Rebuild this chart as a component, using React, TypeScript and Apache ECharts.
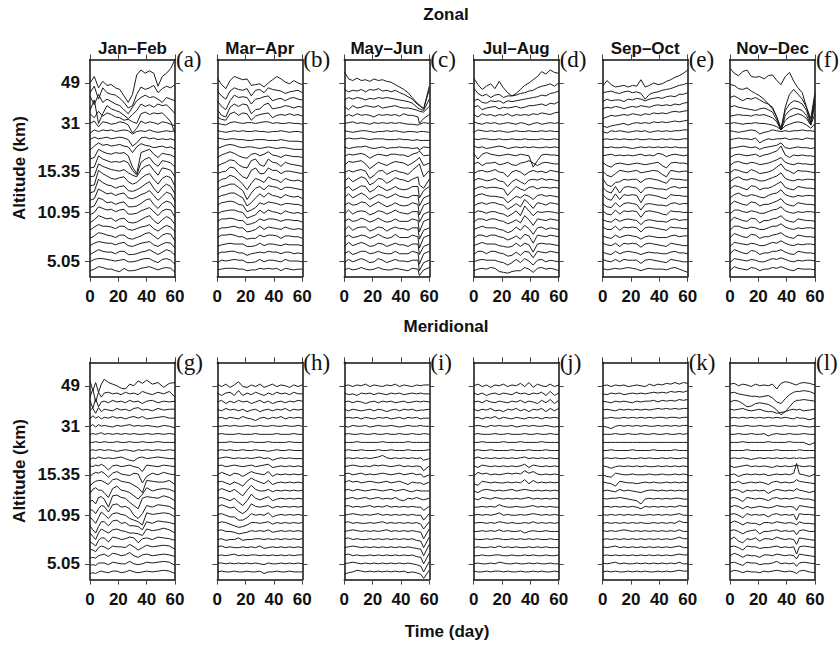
import { useEffect, useRef } from 'react';
import * as echarts from 'echarts';

// Sample days along each 60-day window
const DAYS = [0, 3, 6, 9, 12, 15, 18, 21, 24, 27, 30, 33, 36, 39, 42, 45, 48, 51, 54, 57, 60];
const DAYS_ZONAL_MAY_JUN = [0, 3, 6, 9, 12, 15, 18, 21, 24, 27, 30, 33, 36, 39, 42, 45, 48, 52, 53, 56, 60];
const DAYS_MERID_JAN_FEB = [0, 2, 4, 6, 8, 10, 13, 16, 19, 22, 25, 28, 31, 34, 37, 40, 44, 48, 52, 56, 60];
const DAYS_MERID_MAY_JUN = [0, 3, 6, 9, 12, 15, 18, 21, 24, 27, 30, 33, 36, 39, 42, 45, 48, 51, 54, 56, 60];
const DAYS_MERID_NOV_DEC = [0, 3, 6, 9, 12, 15, 18, 21, 24, 27, 30, 33, 36, 39, 42, 45, 47, 49, 52, 56, 60];

// Altitude levels: 24 stacked traces, level 23 (top) down to level 0 (bottom)
const LEVEL_COUNT = 24;
const ALT_LEVELS = [23, 18, 12, 7, 1];
const ALT_LABELS = ['49', '31', '15.35', '10.95', '5.05'];

const MONTHS = ['Jan\u2013Feb', 'Mar\u2013Apr', 'May\u2013Jun', 'Jul\u2013Aug', 'Sep\u2013Oct', 'Nov\u2013Dec'];
const LETTERS = ['(a)', '(b)', '(c)', '(d)', '(e)', '(f)', '(g)', '(h)', '(i)', '(j)', '(k)', '(l)'];

// Normalised wind anomaly per level, in tenths of the trace spacing (top level first)
const ZONAL_JAN_FEB = [
  [0, 8, -6, 2, -3, -2, -6, -8, -16, -24, -14, 10, 16, 12, 15, 12, -4, 8, 12, 18, 29],
  [-2, 6, -10, 4, -2, -4, -5, -9, -14, -21, -18, -4, 5, 2, 4, 7, -2, 3, 6, 4, 8],
  [4, -7, 6, -4, 0, -3, -6, -8, -13, -18, -10, -2, 2, 5, 2, 3, 0, -4, 2, 0, -2],
  [-4, 9, -20, -8, 2, -2, -4, -6, -10, -14, -9, -4, 4, 1, 3, 0, 4, 2, 3, -2, -8],
  [2, -3, 5, -1, 3, 1, -2, -3, -6, -5, -8, -10, 2, 4, 1, 3, 2, 3, -2, -8, -22],
  [0, 3, -4, 2, 1, -1, 0, 2, 1, -2, -12, -6, 3, 0, 2, 1, -1, 2, 1, -1, -3],
  [-2, 2, 0, 2, 1, 2, 0, 1, 2, 1, -3, 0, 1, 0, 2, 0, -1, 0, 1, 0, 1],
  [0, 3, 1, 2, 3, 1, 2, 3, 2, 0, -8, -4, 2, 3, 1, 2, 0, 1, 0, 1, -1],
  [-3, 2, 6, 3, 4, 2, 3, 4, 2, 1, -6, 1, 5, 3, 2, 0, 1, 2, 0, 1, -2],
  [-4, -2, 8, 5, 3, 2, 4, 3, 4, 0, -14, -22, 4, 6, 8, 2, -2, 3, 2, 1, -2],
  [-5, -4, 10, 6, 4, 2, 3, 2, 4, 1, -8, -14, 2, 6, 8, 1, -3, 4, 3, 1, -4],
  [-6, -5, 10, 7, 5, 3, 2, 1, 3, -1, -4, -6, 3, 7, 9, 2, -4, 5, 4, 2, -6],
  [-7, -6, 12, 8, 5, 2, 1, 3, 4, -2, -5, -3, 2, 6, 8, 1, -5, 2, 5, 3, -8],
  [-6, -4, 11, 7, 4, 3, 0, 2, 3, -3, -4, -2, 1, 5, 8, 0, -6, 1, 5, 2, -7],
  [-5, -3, 9, 6, 3, 4, 1, 3, 4, -2, -3, -1, 2, 4, 7, 1, -5, 0, 5, 3, -6],
  [-4, -2, 8, 6, 2, 3, 0, 2, 3, -3, -3, -2, 1, 5, 7, 0, -5, 1, 4, 2, -5],
  [-3, 0, 7, 5, 3, 4, 1, 3, 4, -2, -2, -1, 2, 4, 6, 1, -4, 2, 4, 3, -6],
  [-3, 1, 6, 4, 2, 3, -1, 2, 3, -2, -3, -2, 1, 4, 6, 0, -4, 1, 5, 2, -5],
  [-2, 2, 5, 3, 3, 2, 0, 3, 3, -1, -2, 0, 2, 3, 5, 0, -3, 1, 4, 2, -4],
  [-2, 1, 5, 4, 2, 1, -1, 2, 2, -2, -3, -1, 1, 4, 5, 1, -3, 2, 4, 3, -5],
  [-1, 2, 4, 3, 2, 2, 0, 2, 3, -1, -2, 0, 2, 3, 4, 0, -2, 1, 3, 2, -4],
  [-2, 1, 4, 2, 1, 1, -1, 2, 2, -2, -2, -1, 1, 2, 4, 1, -2, 1, 4, 2, -3],
  [-1, 2, 3, 3, 2, 1, 0, 1, 2, -1, -1, 0, 2, 3, 3, 0, -2, 2, 3, 1, -4],
  [-2, 0, 3, 2, 0, 0, -2, -3, 1, -2, -2, -1, 1, 2, 3, 1, -1, 1, 2, 1, -4],
];

const ZONAL_MAR_APR = [
  [6, -2, -7, 3, 8, 6, 4, 5, -3, -2, -1, -5, 0, 4, 8, 5, 1, -1, 3, 0, -2],
  [0, -6, -10, 0, 4, 2, 1, 3, -6, 1, 2, -2, 4, 2, 1, 0, -3, -1, 0, 1, -2],
  [-2, -9, -13, -2, 5, 2, 3, 2, -6, 0, 1, 3, 4, -2, 0, 1, -2, 1, 2, 0, -1],
  [-3, -10, -12, 0, 4, 1, 4, 3, -8, -3, -2, 3, 5, -2, -1, 0, 2, 1, -1, 1, 0],
  [-2, -5, -6, 2, 4, 0, 3, 2, -6, -1, 1, 2, 3, -3, 0, 1, 0, 2, 0, 1, -1],
  [0, -1, -2, 1, 2, 1, 0, 1, 1, 0, 1, 2, 2, 0, 1, 0, 0, 1, 0, 0, -1],
  [1, 0, -1, 0, 1, 0, 1, 0, 0, 1, 0, 0, -1, 0, 0, 1, 0, -1, 0, 0, -1],
  [2, 1, 0, 1, 1, 0, 0, -1, -1, 0, 0, 0, -1, -1, -1, 0, -1, -2, -2, -2, -3],
  [-1, 1, 3, 4, 3, 1, 0, 1, 1, 0, -1, 0, 1, 0, -1, 0, 0, -1, -2, -2, -2],
  [-2, 1, 3, 5, 3, 0, -2, -3, 2, 3, 0, 2, 5, 1, 0, -2, 1, 0, -1, -1, -2],
  [-3, 0, 2, 5, 4, -1, -4, -5, 4, 6, -1, -3, 6, 2, 1, -3, 2, 0, -1, -2, -3],
  [-2, 0, 1, 6, 5, -1, -6, -8, 2, 5, -2, -2, 5, 2, 2, -2, 1, 1, 0, -1, -2],
  [-3, 1, 2, 6, 4, 0, -5, -12, -4, 2, 0, -3, 4, 1, 0, -3, 2, 0, -1, 0, -2],
  [-2, 2, 3, 5, 5, 1, -3, -14, -6, 0, 2, -2, 3, 2, 1, -2, 1, 1, 0, -1, -2],
  [-2, 1, 2, 4, 4, 1, -2, -12, -8, -2, 3, -1, 4, 1, 0, -2, 2, 0, -1, 0, -3],
  [-1, 2, 3, 4, 3, 0, -1, -9, -7, -4, 2, 0, 3, 2, 1, -1, 1, 1, 0, 0, -2],
  [-2, 1, 2, 3, 3, 1, 0, -7, -5, -3, 3, -1, 3, 1, 0, -2, 2, 0, -1, 0, -2],
  [-1, 2, 2, 3, 2, 0, 0, -5, -4, -2, 2, 0, 2, 2, 1, -1, 1, 1, 0, 0, -2],
  [-2, 1, 1, 2, 3, 1, 1, -4, -3, -1, 3, -1, 2, 1, 0, -1, 2, 0, -1, 0, -1],
  [-1, 2, 2, 3, 2, 0, 0, -3, -2, -2, 2, 0, 2, 2, 1, -2, 1, 1, 0, 0, -2],
  [-2, 0, 1, 2, 1, 1, 1, -2, -2, -1, 2, -1, 1, 1, 0, -1, 1, 0, 0, 0, -1],
  [-1, 1, 1, 2, 2, 0, 0, -3, -1, 0, 1, 0, 2, 1, 1, -1, 1, 1, -1, 0, -1],
  [-2, 1, 0, 1, 2, 1, 1, -2, -2, -1, 2, -1, 1, 1, 0, -1, 2, 0, 0, 0, -1],
  [-1, 0, 1, 1, 1, 0, 0, -2, -1, -1, 1, 0, 1, 0, 1, -2, 1, 0, -1, 0, 0],
];

const ZONAL_MAY_JUN = [
  [14, 5, 3, 6, 3, 4, 2, 5, 3, 4, 2, 1, -2, -5, -8, -12, -18, -26, -27, -32, -4],
  [2, -1, 1, 0, 2, -1, 2, 1, 3, 0, 1, -1, 1, -2, -4, -7, -10, -17, -18, -22, 2],
  [-1, 2, 0, 2, 1, -1, 1, 0, 2, 1, 2, 1, 0, -1, -2, -3, -5, -11, -12, -14, 0],
  [1, -3, 2, -1, 0, 2, 1, 0, 2, -1, 0, 1, 2, 0, -1, -1, -2, -4, -5, -6, 1],
  [-2, 1, -1, 2, 0, 1, 0, -2, 1, 0, 1, 0, 1, -1, 2, 0, 0, -2, -10, -4, 1],
  [0, 1, 2, 0, 1, 0, -1, 1, 0, 1, 0, 1, 0, 1, 0, -1, -1, -2, -1, 1, 0],
  [1, 0, -1, 0, 1, 1, 0, -1, 0, 0, 1, 0, 1, 0, -1, 0, 0, -1, 0, 0, -1],
  [0, 2, 1, 1, 2, 1, 0, 1, 1, 1, 0, 0, 0, 1, 0, 0, -1, 0, -1, -1, -1],
  [1, -1, 0, 1, 1, 2, 0, -1, 0, 1, -1, 0, 0, 1, 0, 0, -1, 0, -3, 1, 0],
  [-1, 2, 1, 2, 3, 1, -3, 0, 2, 1, 0, 2, 2, 1, 1, -1, 2, 4, 6, 0, 1],
  [-2, 3, 2, 3, 4, 0, -6, -2, 2, 0, -2, 1, 3, 2, 1, -2, 1, 6, 8, -2, 1],
  [-1, 2, 0, 2, 3, 1, -8, -4, 1, 2, -3, 0, 2, 0, -1, -3, 2, 8, 10, -6, 2],
  [-2, 3, -2, 1, 4, 2, -6, -3, 2, 1, -4, -1, 3, 1, 0, -2, 1, 4, -6, -10, 1],
  [-1, 2, -3, 0, 3, 2, -5, -2, 3, 0, -3, -1, 2, -1, -2, -1, 2, 2, -12, -3, 2],
  [-2, 3, -2, 1, 4, 1, -4, -1, 2, 1, -2, 0, 3, 0, -1, -2, 1, 1, -12, -2, 1],
  [-1, 2, -1, 0, 3, 2, -3, 0, 3, 0, -3, -1, 2, -1, -2, -1, 2, 0, -13, -1, 2],
  [-2, 3, -2, 1, 2, 1, -3, -1, 2, 1, -2, 0, 3, 0, -1, -2, 1, 1, -12, -2, 1],
  [-1, 2, -1, 0, 3, 1, -2, 0, 3, 0, -2, -1, 2, -1, -1, -1, 2, 0, -14, -1, 2],
  [-2, 3, -2, 1, 2, 2, -3, -1, 2, 1, -3, 0, 2, 0, 0, -2, 1, 1, -13, -2, 1],
  [-1, 2, -1, 0, 2, 1, -2, 0, 3, 0, -2, -1, 3, -1, -1, -1, 2, 0, -14, -1, 2],
  [-2, 3, -1, 1, 3, 1, -2, -1, 2, 1, -2, 0, 2, 0, 0, -2, 1, 1, -12, -2, 1],
  [-1, 2, -2, 0, 2, 2, -1, 0, 2, 0, -1, -1, 2, -1, -1, -1, 2, 0, -14, -1, 2],
  [-2, 2, -1, 1, 3, 1, -2, -1, 3, 1, -2, 0, 2, 0, 0, -1, 1, 1, -12, -2, 1],
  [-1, 1, -1, 0, 2, 0, -1, 0, 2, 0, -1, -1, 1, 0, -1, -2, 1, 0, -8, -1, 2],
];

const ZONAL_JUL_AUG = [
  [6, -2, -8, -4, -1, -7, 2, -6, -12, -16, -13, -8, -3, 0, 4, 8, 14, 11, 16, 13, 12],
  [4, -3, -6, -4, -8, -5, -4, -8, -6, -6, -5, -3, -2, 0, 1, 4, 6, 7, 9, 6, 10],
  [-2, 0, -4, -5, -2, -3, -2, -5, -2, -3, -2, -1, 0, 1, 2, 3, 5, 4, 7, 8, 10],
  [0, 2, -3, -1, 0, 1, -2, 0, -1, 0, 1, -1, 0, 2, 2, 3, 4, 2, 5, 4, 7],
  [1, -2, 2, 0, 1, -1, 1, 0, 2, -1, 1, 0, 1, 0, 2, 1, 3, 2, 1, 3, 4],
  [2, 0, -1, 1, 0, 1, -1, 0, 1, 0, -1, 1, 0, -2, 0, 1, -1, 0, 1, 0, 1],
  [-1, 2, 1, 0, 1, 0, 1, 0, -1, 0, 1, 0, 0, 1, 0, 0, 1, 0, 1, 0, 0],
  [1, 0, 1, 1, 0, 0, 1, 0, 0, 1, 0, 0, 1, 0, 0, 0, 1, 0, 0, 1, 0],
  [2, 0, 1, -1, 0, 1, 2, 1, -1, 0, 1, 0, 1, 0, 1, 0, 0, 1, 0, 1, 0],
  [3, -4, 2, 4, 2, 1, 0, 1, 2, 1, 0, 2, 1, 0, -14, -6, 1, 2, 1, 1, 0],
  [0, 2, -2, 1, 1, 2, -1, 0, 2, -1, -2, 1, 2, 4, 1, -2, 1, 2, 1, 0, 0],
  [-2, 1, 2, 0, 1, 3, 0, -1, -6, 0, 2, 0, -4, 0, 2, 0, 1, -1, 2, 1, 0],
  [-1, 2, 1, -1, 0, 2, -1, -2, -8, -2, 1, -2, -5, 0, 1, 0, 2, 0, 1, 0, -1],
  [-2, 1, 2, 0, 1, 1, 0, -1, -9, -3, 2, -1, -3, 1, 2, -1, 1, 1, 0, 1, 0],
  [-1, 2, 3, 1, 0, 0, -1, -2, -8, -4, 0, -2, 2, 0, -4, 1, 2, 0, 1, 0, -1],
  [-2, 1, 2, 0, 2, 2, 0, -1, -6, -3, 1, -3, 6, 1, -5, 2, 1, -1, 2, 1, 0],
  [-1, 2, 1, -1, 1, 1, -1, -2, -5, -2, 2, -4, 8, 2, -4, 1, 0, 1, 1, 0, -1],
  [-2, 2, 2, 0, 2, 2, 0, -1, -4, -2, 1, -3, 6, 1, -6, 2, 1, 0, 2, 1, 0],
  [-1, 1, 3, 1, 1, 1, -1, -2, -5, -3, 2, -2, 4, 0, -7, 1, 2, -1, 1, 0, -1],
  [-2, 2, 2, 0, 2, 2, 0, -1, -4, -2, 1, -3, 3, 1, -8, 2, 1, 0, 2, 1, 0],
  [-1, 1, 3, 1, 1, 1, -1, -2, -3, -2, 2, -2, 2, 0, -9, 1, 2, 1, 1, 0, -1],
  [-2, 2, 2, -1, 2, 2, 0, -1, -4, -3, 1, -3, 2, 1, -6, 2, 1, 0, 2, 1, 0],
  [-1, 1, 2, 1, 1, 1, -1, -2, -5, -2, 2, -2, 3, 0, -5, 1, 2, -1, 1, 0, -1],
  [-2, 0, 1, 0, 2, 1, -3, -4, -5, -3, -2, -2, 2, 0, -4, 1, 2, 0, 1, 0, -2],
];

const ZONAL_SEP_OCT = [
  [-4, 3, -2, -5, -4, -3, -5, -3, -4, 4, -5, -3, 0, -2, -1, 2, 4, 7, 9, 12, 16],
  [-2, -1, 0, -2, -3, -1, 0, -2, -1, -3, -10, -4, -2, -1, 1, 2, 3, 5, 7, 8, 10],
  [-3, 0, -2, -1, -1, -3, 0, -1, 1, 0, -2, 0, 1, 2, 1, 3, 4, 3, 6, 6, 8],
  [-2, 0, -1, 1, 0, -2, 0, 1, 0, 2, 1, 0, 2, 3, 2, 3, 2, 4, 3, 5, 6],
  [-4, -2, 0, -1, 0, 1, 0, 2, 1, 0, 2, 1, 3, 2, 3, 2, 4, 5, 4, 5, 6],
  [-3, -5, -3, -2, -1, 0, -2, 0, 1, 0, 1, 0, 2, 1, 2, 1, 2, 3, 2, 3, 4],
  [0, -2, 1, 0, 1, 0, -1, 0, 1, 0, 1, -1, 0, 1, 0, 1, 0, 1, 1, 2, 2],
  [0, 1, 0, 1, 0, 1, 0, 0, 1, 0, 0, 1, 0, 0, 1, 0, 1, 0, 0, 1, 1],
  [1, 0, 1, 0, 0, 1, 0, -1, 0, 1, 0, 1, 0, 1, 0, 1, 0, 1, 0, 0, 0],
  [0, 1, 2, 0, 1, 0, 1, 0, 1, 2, 0, 1, 0, 3, 2, -1, 1, 2, 1, 0, 1],
  [2, -2, -4, 0, 1, 0, -1, 0, 1, 0, -1, 0, 1, 2, -2, -5, 1, 2, 1, 1, 0],
  [1, -4, -6, -2, 2, 1, 0, 1, 2, -1, 0, 1, 2, 1, -3, -6, 2, 1, 0, 1, 1],
  [2, -6, -8, -3, -2, 1, 0, 1, 1, -3, 1, 2, 1, 0, -2, -4, 2, 1, 1, 0, 0],
  [1, -4, -6, 2, -6, 1, 2, 1, 0, -6, 0, 1, 0, -1, -1, -2, 1, 2, 0, 1, 1],
  [2, -3, -5, 3, -4, 2, 1, 2, 1, -8, 1, 2, 1, 0, -2, -3, 2, 1, 1, 0, 0],
  [1, -3, -4, 2, -3, 1, 2, 1, 0, -7, 0, 1, 0, -1, -1, -2, 1, 2, 0, 1, 1],
  [2, -2, -3, 3, -2, 2, 1, 2, 1, -6, 1, 2, 1, 0, -2, -3, 2, 1, 1, 0, 0],
  [1, -1, -2, 2, -1, 1, 2, 1, 0, -5, 0, 1, 0, -1, -1, -2, 1, 2, 0, 1, 1],
  [2, -1, -1, 3, -2, 2, 1, 2, 1, -4, 1, 2, 1, 0, -1, -2, 2, 1, 1, 0, 0],
  [1, -1, -2, 2, -1, 1, 2, 1, 0, -3, 0, 1, 0, -1, -1, -1, 1, 2, 0, 1, 1],
  [2, 0, -1, 2, -2, 2, 1, 2, 1, -3, 1, 2, 1, 0, -1, -2, 2, 1, 0, -1, -1],
  [1, -1, -2, 2, -1, 1, 2, 1, 0, -2, 0, 1, 0, 0, -1, -1, 1, 2, 0, 0, -1],
  [2, 0, -1, 2, -1, 2, 1, 1, 1, -3, 1, 2, 1, 0, -1, -2, 2, 1, 0, -1, -1],
  [1, -1, 0, 1, 0, 1, 2, 1, 0, -2, 0, 1, 0, 0, 0, -1, 1, 2, 0, -2, -4],
];

const ZONAL_NOV_DEC = [
  [18, 12, 9, 14, 16, 8, 7, 8, 5, 9, 10, 3, -2, 8, 13, 2, -6, -12, -30, -44, -12],
  [8, 7, 3, 2, 4, 0, -3, -6, -10, -16, -22, -32, -48, -20, -4, 2, -4, -10, -20, -38, -6],
  [2, 4, 1, -2, 1, 0, 2, -1, -4, -6, -10, -22, -36, -14, -6, -2, -3, -6, -14, -30, -2],
  [0, 2, 0, -1, -2, -3, -4, -2, -1, -3, -6, -16, -28, -10, -4, -1, -2, -4, -10, -22, 4],
  [-1, 0, 1, 0, 0, -1, 1, 0, 1, -1, -3, -8, -18, -6, -2, 0, 2, 0, -4, -12, 2],
  [0, 1, 0, -1, 0, 0, 1, 0, 0, -1, -2, -4, -8, -3, -1, 1, 2, 1, -2, -6, 0],
  [1, 0, -1, 0, 1, 2, 1, -3, -1, 0, 2, 1, 0, 1, 0, 1, 1, 2, 1, 1, 0],
  [0, 1, 2, 1, 1, 0, 2, -4, -1, 1, 0, 1, 1, 2, 0, 1, 1, 0, 2, 1, 1],
  [-1, 0, 1, 2, 1, 0, 1, -2, 0, 1, 2, 3, 6, 0, -1, 0, 1, 0, 0, -1, 0],
  [-2, 1, 2, 1, 0, 1, 2, -1, 1, 2, 4, 6, 12, 1, -2, 1, 0, 1, 0, 0, -1],
  [-2, 2, 3, 1, 0, 2, 1, -1, 0, 1, 3, 5, 8, 2, 0, -1, 1, 0, 0, -1, 0],
  [-1, 3, 2, 0, -1, 3, 1, -2, -1, 0, 2, 6, 10, 3, 1, -2, 2, 1, 1, 0, -1],
  [-2, 2, 4, 1, 0, 2, 1, -1, -1, 1, 3, 5, 9, 2, 0, -1, 1, 0, 1, 1, 0],
  [-1, 3, 2, 0, -2, 3, 2, -2, 0, 0, 2, 5, 8, 1, -1, -2, 2, 1, 0, 0, -1],
  [-2, 2, 4, 1, 0, 2, 1, -1, -2, 1, 3, 4, 8, 2, 0, -1, 1, 0, 1, 1, 0],
  [-1, 4, 2, 0, -1, 3, 2, -2, 0, 0, 2, 4, 7, 1, -1, -2, 2, 1, 0, 0, -1],
  [-2, 3, 3, 1, 0, 2, 1, -1, -1, 1, 3, 4, 7, 2, 0, -1, 1, 0, 1, 1, 0],
  [-1, 4, 2, 0, -1, 3, 2, -3, 0, 0, 2, 3, 6, 1, -1, -2, 2, 1, 0, 0, -1],
  [-2, 3, 3, 1, 0, 2, 1, -1, -1, 1, 3, 3, 6, 2, 0, -1, 1, 0, 1, 1, 0],
  [-1, 4, 2, 0, -1, 3, 2, -2, 0, 0, 2, 3, 5, 1, -1, -2, 2, 1, 0, 0, -1],
  [-2, 3, 2, 1, 0, 2, 1, -1, -1, 1, 3, 2, 5, 2, 0, -1, 1, 0, 1, 1, 0],
  [-1, 4, 2, 0, -1, 3, 2, -2, 0, 0, 2, 2, 4, 1, -1, -2, 2, 1, 0, 0, -1],
  [-2, 3, 2, 1, 0, 2, 1, -1, -1, 1, 3, 2, 4, 2, 0, -1, 1, 0, 1, 1, 0],
  [-2, 3, 1, 0, -1, 2, 1, -2, 0, 0, 2, 1, 3, 1, -1, -2, 1, 0, 0, 0, -1],
];

const MERID_JAN_FEB = [
  [6, -6, 4, -8, 2, 8, 4, 2, 0, -3, -4, 2, 0, 6, 3, 7, 2, 4, -2, 3, 4],
  [-4, 6, -10, 2, -4, 1, 2, 0, 1, -1, 2, 0, 1, -1, 3, 1, -1, 2, 0, 3, -4],
  [2, -8, 4, -6, 0, 1, -1, 2, 0, 1, -1, 2, 0, 1, -2, 1, 2, -1, 1, 0, 1],
  [0, 2, -4, 3, -2, 1, 0, -1, 2, 0, 1, -1, 2, 3, 0, 1, -1, 2, 0, 1, 1],
  [-1, 3, 0, 2, -1, 1, 0, 2, 0, 1, -1, 1, 2, 0, 2, -1, 0, 1, 2, 0, 0],
  [0, 2, -1, 2, 0, 1, 0, -1, 1, 0, 1, 2, 0, 1, 0, 1, 0, -1, 1, 0, -2],
  [0, 1, 0, 1, 2, 0, 1, 0, 1, 0, 1, 0, 1, 0, 0, 1, 0, 1, 0, 1, 0],
  [0, 0, 1, 0, 0, 1, 0, 0, 1, 0, 0, 1, 0, 0, 1, 0, 0, 1, 0, 0, 0],
  [0, 1, 0, 1, 1, 0, 1, 0, -1, 0, 1, 0, -1, 1, 0, 1, 0, 1, 0, 1, 0],
  [-1, 1, 0, 2, 1, 0, 1, 0, 1, 2, 0, -2, -3, 1, 2, 0, 1, 2, 1, 0, 0],
  [1, 0, 2, 1, 3, 1, -4, 1, 2, 0, 1, 2, 0, -1, -6, 2, 1, 0, 2, 1, 0],
  [-2, 1, 3, 2, 4, 2, -3, 2, 4, 1, 0, -1, 2, 1, -10, -2, 2, 0, 3, 1, 0],
  [-4, 0, 2, 3, 3, 1, -2, 4, 5, 2, 1, 0, -3, -6, -12, 3, 2, 1, 1, 3, -2],
  [-3, 2, 4, 1, 1, -2, -8, 3, 6, 1, 0, -2, -6, -10, -4, 4, 0, 2, 3, 2, -1],
  [-2, -2, -6, 2, 3, 0, -10, 4, 5, 2, 1, -4, -8, -12, 1, 3, 2, 1, 4, 2, -2],
  [-3, -4, -8, -2, 2, 1, -6, 3, 4, 0, 1, -2, -10, -14, -8, 2, 0, 3, 2, 1, -3],
  [-2, -6, -10, -3, 4, 1, -4, 2, 3, 1, 0, -4, -6, -8, -12, 3, 1, 2, 3, 2, -2],
  [-3, -8, -12, -4, 2, 2, -3, 3, 4, 0, 1, -3, -3, -4, -8, 2, 0, 3, 2, 1, -1],
  [-2, -6, -10, -2, 3, 1, -2, 2, 3, 1, 0, -2, -2, -3, -5, 3, 1, 2, 4, 2, -2],
  [-3, -5, -8, -1, 2, 2, -3, 3, 2, 0, 1, 3, 2, -4, 1, 2, 0, 3, 2, 1, -1],
  [-2, -3, -5, 0, 2, 1, -2, 2, 1, 1, 0, 4, 1, -3, 0, 3, 1, 2, 3, 2, -2],
  [-3, -2, -3, 0, 1, 2, -1, 3, 2, 0, 1, 4, 0, -2, 1, 2, 0, 1, 2, 1, -1],
  [-2, -1, -2, 1, 1, 1, -1, 2, 1, 0, 0, 3, 0, -1, 0, 2, 1, 2, 3, 2, -2],
  [-2, -1, -2, 0, 1, 0, -1, 1, 1, -1, 0, 2, 0, -1, 0, 1, 0, 1, 2, 1, -2],
];

const MERID_MAR_APR = [
  [2, -1, 2, -2, 1, 5, -1, -2, 1, -1, 2, -2, 0, 2, -1, 1, 0, -2, 1, -1, 1],
  [1, -2, 1, 2, -2, 4, -2, 1, -1, 2, 0, -2, 1, -1, 2, 0, 1, -1, 2, 0, 0],
  [0, 2, -2, 1, -1, 2, 0, 1, -2, 0, 2, -1, 1, -2, 0, 1, -1, 1, 0, 2, 1],
  [1, -1, 2, 0, 1, -1, 1, -2, 0, 1, -2, 0, 1, -1, 1, 0, 2, -1, 1, 0, 1],
  [0, 1, -1, 1, 0, -1, 2, 0, -1, -3, 0, 1, -1, 1, 0, 2, -1, 1, 0, 1, 0],
  [0, 0, 1, 0, 1, 0, 0, 1, 0, 0, 1, 0, 0, 1, 0, 0, 1, 0, 0, 1, 0],
  [0, 1, 0, 0, 0, 1, 0, 0, 0, 1, 0, 0, 0, 0, 1, 0, 0, 0, 1, 0, 0],
  [0, 0, 0, 1, 0, 0, 0, 0, 1, 0, 0, 0, 1, 0, 0, 0, 0, 1, 0, 0, 0],
  [0, 1, 0, 1, 0, 0, 1, 0, 0, 1, 0, 0, -1, 0, 1, 0, 0, 1, 0, 0, 0],
  [0, 1, 2, 1, 0, 1, 0, 1, 0, 1, 2, 0, 1, -2, 0, 1, 0, 1, 0, 0, 0],
  [1, 2, 0, 1, 2, 1, 0, 1, 2, 0, 1, 2, 3, -1, 0, 1, 0, 1, 0, 1, 0],
  [0, 3, 1, -1, 2, 1, -2, 1, 4, 2, 1, 0, 4, -2, 1, 0, 1, 0, 1, 0, 1],
  [1, 2, 0, -2, 1, -1, -4, 2, 6, 3, 1, -1, 3, -2, 0, 1, 0, 1, 0, 1, 0],
  [0, 3, 1, -1, 2, -2, -6, 1, 7, 2, 0, 0, 2, -1, 1, 0, 1, 0, 1, 0, 1],
  [1, 2, 0, -2, 1, -4, -8, -2, 6, 1, -1, 1, 3, -2, 0, 1, 0, 1, 0, 1, 0],
  [0, 3, 1, -1, 0, -5, -8, -4, 4, 1, 0, 1, 2, -1, 1, 0, 1, 0, 1, 0, 1],
  [1, 2, 0, -2, -2, -6, -6, -3, 2, 0, 1, 0, 3, -2, 0, 1, 0, 1, 0, 1, 0],
  [0, 2, 1, -1, -3, -5, -4, -2, 1, 1, 0, 1, 2, -1, 1, 0, 1, 0, 1, 0, 1],
  [1, 2, 0, 0, -1, -3, -2, -1, 1, 0, 1, 0, 2, -1, 0, 1, 0, 1, 0, 1, 0],
  [0, 1, -1, 0, 0, 2, -1, 0, 0, 1, 1, 0, 1, 0, 1, 0, 1, 0, 1, 0, 1],
  [1, 2, 0, 1, 0, 0, 1, 0, 1, 0, 2, -1, 0, 1, 0, 1, 0, 1, 0, 1, 0],
  [0, 1, 0, 1, 2, 0, 1, 0, 1, 1, 0, 1, 0, 1, 0, 1, 0, 1, 0, 1, 1],
  [1, 1, 0, 1, 0, 1, 0, 1, 0, 1, 0, -1, 1, 0, 0, 1, 0, 1, 0, 1, 0],
  [0, 1, 0, 0, 1, 0, 0, 1, 0, 0, 1, -2, 0, 0, 1, 0, 0, 1, 0, 0, 0],
];

const MERID_MAY_JUN = [
  [0, 1, -1, 1, 0, 2, -1, 1, 0, -1, 1, 0, 2, -1, 1, 0, -1, 1, 0, 1, 1],
  [1, -1, 0, -2, 1, 0, 1, -1, 1, 0, -1, 1, 0, 1, -1, 0, 1, 0, 1, 0, 0],
  [0, 1, -1, 1, 0, -2, 0, 1, -1, 1, 0, 1, -1, 0, 1, -1, 0, 1, 0, 1, 0],
  [1, -1, 1, 0, -1, 0, 1, -1, 1, 0, -2, 0, 1, -1, 1, 0, 1, -1, 0, 0, 1],
  [0, 1, 0, 1, -1, 1, 0, -1, 1, 0, 1, -1, 0, 1, -1, 1, 0, 1, -1, 0, 0],
  [0, -1, 1, 0, 0, 1, -1, 0, 1, 0, 0, 1, 0, -1, 0, 1, 0, 0, 1, 0, 0],
  [0, 1, 0, 0, 1, 0, 0, 1, 0, 0, 1, 0, 0, 1, 0, 0, 1, 0, 0, 1, 0],
  [0, 0, 0, 1, 0, 0, 0, 0, 0, 1, 0, 0, 0, 0, 0, 1, 0, 0, 0, 0, 0],
  [0, 1, 0, 0, 1, 0, 0, 0, 1, 0, 0, 1, 0, 0, 0, 1, 0, 0, 0, 0, 1],
  [0, 1, 0, 1, 0, 1, 0, 1, 2, 4, 1, 0, 1, 0, 1, 0, 1, 0, 1, -2, 0],
  [0, 1, 2, 1, 0, 1, 0, 2, 1, 2, 1, 0, 1, 2, 0, 1, 0, 1, 0, -5, 1],
  [1, 2, 0, 1, 2, 0, 1, 0, 1, 2, 1, 0, 1, 2, 0, 1, 2, 0, 1, -3, 0],
  [0, 3, 1, 2, 0, 1, 2, 1, 0, 1, 2, 0, 1, 2, 0, -2, 1, 0, 0, -2, 1],
  [1, 2, 0, 2, 1, 0, 1, 2, 1, 0, 1, 2, 0, 1, 2, 0, -1, 1, 0, 0, 0],
  [0, 1, 2, 0, 1, 2, 0, 1, 2, 0, 1, 0, 2, -1, -2, 1, 0, 2, 0, -1, 1],
  [1, 2, 0, 1, 0, 1, 2, 0, 1, 0, 2, 0, 1, 0, 1, 0, 1, 0, 0, -4, 1],
  [0, 1, 2, 1, 0, 1, 0, 1, 2, 0, 1, 0, 1, 0, 1, 0, 1, 0, 0, -6, 2],
  [1, 2, 0, 1, 0, 0, 1, 0, 1, 2, 0, 1, 0, 1, 0, 1, 0, 1, -1, -7, 2],
  [0, 1, 2, 1, 0, 1, 0, 1, 0, 1, 2, 0, 1, 0, 1, 0, 1, 0, -1, -9, 3],
  [1, 2, 0, 1, 0, 0, 1, 0, 1, 0, 1, 0, 1, 0, 1, 0, 1, -1, -2, -10, 3],
  [0, 1, 2, 1, 0, 1, 0, 1, 0, 1, 0, 1, 0, 1, 0, 1, 0, -1, -2, -10, 4],
  [1, 2, 0, 1, 0, 0, 1, 0, 1, 0, 1, 0, 1, 0, 1, 0, 1, -1, -2, -10, 3],
  [0, 1, 2, 1, 0, 1, 0, 1, 0, 1, 0, 1, 0, 1, 0, 1, 0, -1, -3, -10, 3],
  [-3, -1, 0, 2, 1, 0, 1, 0, 1, 0, 1, 0, 1, 0, 1, -1, 0, -1, -3, -8, 2],
];

const MERID_JUL_AUG = [
  [0, 2, -1, 1, -2, 1, 0, 2, -1, 1, 0, 3, -1, 4, -2, 2, 0, -1, 2, -1, 1],
  [1, -1, 1, -2, 0, 1, -1, 1, 0, -1, 2, 0, 1, -1, 1, 0, 2, -2, 3, -2, 1],
  [0, 1, -1, 2, 0, -1, 1, 0, -1, 1, 0, 2, -1, 1, 0, -2, 2, -1, 3, -2, 2],
  [1, -1, 1, 0, 2, -1, 0, -2, 1, 0, 2, -1, 1, -2, 1, 0, 2, -2, 2, -1, 2],
  [0, 1, -1, 1, 0, 2, -1, 1, 0, -1, 1, 0, -1, 1, 0, 1, -1, 1, 0, 1, 0],
  [0, 1, 0, -1, 1, 0, 1, 0, 0, 1, -1, 0, 1, 0, 1, 0, 0, 1, 0, -1, 0],
  [0, 1, 0, 0, 0, 1, 0, 0, 1, 0, 0, 0, 1, 0, 0, 1, 0, 0, 1, 0, 0],
  [0, 0, 1, 0, 0, 0, 0, 1, 0, 0, 0, 1, 0, 0, 0, 0, 1, 0, 0, 0, 0],
  [0, 1, 0, 0, 1, 0, 0, 0, 0, 1, 0, 0, 0, 1, 0, 0, 0, 1, 0, 0, 0],
  [0, 2, 0, 1, 0, 1, 0, 1, 0, 1, 0, 1, 2, 0, 1, 0, 1, 0, 1, 0, 0],
  [1, -1, 2, 1, 0, 1, 0, 1, 0, 1, 0, 1, 3, -1, 2, 1, 0, 1, 0, 1, 0],
  [-2, 3, 1, 2, 0, 1, 0, 1, 2, 1, 2, 1, 5, 2, 4, 1, 0, 1, 0, 1, 0],
  [-1, -3, 2, 1, 0, 1, 0, 0, 1, 0, 1, 0, 4, -1, 3, 0, 1, 0, 1, 0, 1],
  [0, -2, 1, 2, 1, 0, 1, 0, 1, 2, 0, 1, 2, 1, 0, 1, 0, 1, 0, 1, 0],
  [1, -1, 2, 1, 0, 2, 1, 0, 1, 0, 1, 0, 1, 2, 0, 1, 0, 1, 0, 1, 0],
  [0, 0, 1, 0, 1, 0, 3, 1, 0, 0, 1, 0, 0, 1, 2, 0, 1, 0, 1, 0, 0],
  [0, 1, 0, 1, 0, 1, 3, 0, 1, 0, 0, 1, 0, 1, 2, 1, 0, 1, 0, 1, 0],
  [0, 1, 1, 0, 1, 0, 2, 1, 0, 1, 0, 0, 1, 0, 2, 0, 1, 0, 1, 0, 1],
  [0, 0, 1, 0, 1, 0, 2, 0, 1, 0, 0, 1, -2, 0, 1, 0, 0, 1, 0, 0, 0],
  [1, 0, 0, 1, 0, 1, 1, 0, 0, 1, 0, 1, 0, 1, 0, 1, 0, 0, 1, 0, 0],
  [0, 1, 0, 0, 1, 0, 2, 0, 1, 0, 1, 0, 0, 1, 0, 1, 0, 1, 0, 0, 0],
  [0, 0, 1, 0, 0, 1, 1, 0, 0, 1, 0, 0, 1, 0, 1, 0, 0, 1, 0, 0, 1],
  [0, 1, 0, 0, 1, 0, 2, 1, 0, 0, 1, 0, 0, 1, 0, 1, 0, 0, 1, 0, 0],
  [1, 0, 0, 1, 0, 1, 1, 0, 1, 0, 0, 1, 0, 0, 1, 0, 1, 0, 0, 1, 0],
];

const MERID_SEP_OCT = [
  [0, 1, -1, 1, 0, 1, -1, 0, 1, 0, -1, 2, 0, 2, 1, 3, 2, 4, 2, 4, 3],
  [0, -1, 1, 0, 1, -1, 0, 1, 0, 1, 0, 1, 2, 1, 2, 1, 3, 2, 3, 2, 4],
  [1, 0, -1, 1, 0, 1, 0, -1, 1, 0, 1, 1, 2, 0, 2, 1, 2, 1, 3, 2, 3],
  [0, 1, 0, -1, 1, 0, 1, 0, 1, 0, 1, 0, 1, 2, 1, 2, 1, 2, 1, 2, 2],
  [0, 0, 1, 0, 0, 1, 0, 1, 0, 1, 0, 1, 0, 1, 1, 0, 1, 1, 0, 1, 1],
  [0, -1, -3, 0, 1, 0, 1, 0, 1, 0, 1, 0, 0, 1, 0, 1, 0, 1, 0, 1, 1],
  [0, 0, 0, 1, 0, 0, 1, 0, 0, 1, 0, 0, 1, 0, 0, 1, 0, 0, 1, 0, 1],
  [0, 0, 0, 0, 0, 0, 0, 0, 0, 0, 0, 0, 0, 0, 0, 0, 0, 0, 0, 0, 0],
  [0, 0, 1, 0, 0, 0, 0, 1, 0, 0, 0, 0, 1, 0, 0, 0, 0, 1, 0, 0, 0],
  [0, 1, 0, 1, 0, 0, 1, 0, 0, 1, 0, 1, 0, 0, 1, 0, 1, 0, 0, 1, 0],
  [1, 0, -2, 0, 1, 0, 1, 0, 1, 0, 1, 0, 0, 1, 0, 1, 0, 1, 0, 1, 0],
  [0, -2, -3, 2, 1, 0, 0, 1, 0, 0, 0, 1, 0, 0, 1, 0, 0, 1, 0, 1, 0],
  [1, 0, -1, -4, 2, 1, 0, 0, -1, 0, 1, 0, 1, 0, 0, 1, 0, 1, 0, 1, 0],
  [0, 1, 0, -1, 2, 0, 1, 0, -1, -2, 0, 1, 1, 0, 1, 0, 1, 0, 1, 0, 1],
  [1, 0, 1, 1, 2, 1, 0, -1, -2, -6, 0, 1, 0, 1, 0, 1, 0, 1, 1, 0, 0],
  [0, 1, 0, 1, 0, 1, 0, 1, 0, -2, 1, 0, 1, 0, 1, 0, 1, 0, 2, 1, 1],
  [1, 0, 1, 0, 1, 0, 1, 0, 1, 0, 0, 1, 0, 1, 0, 1, 0, 1, 2, 0, 0],
  [0, 1, 0, 1, 0, 1, 0, 1, 0, 1, 0, 0, 1, 0, 1, 0, 1, 0, 3, 1, 1],
  [1, 0, 1, 0, 1, 2, 1, 0, 1, 0, 1, 0, 1, 0, 1, 0, 1, 0, 2, 0, 0],
  [0, 1, 0, 1, 0, 1, 0, 1, 0, 1, 0, 1, 0, 1, 0, 1, 0, 1, 3, 1, 1],
  [1, 0, 1, 2, 0, 1, 0, 1, 0, 1, 0, 1, 0, 1, 0, 1, 0, 1, 2, 0, 0],
  [0, 1, 0, 1, 0, 1, 0, 1, 0, 1, 0, 1, 0, 1, 0, 1, 0, 1, 2, 1, 1],
  [1, 0, 1, 2, 0, 1, 0, 0, 1, 0, 1, 0, 1, 0, 1, 0, 1, 0, 2, 0, 0],
  [0, 1, 0, 1, 0, 0, 1, 0, 1, 0, 1, 0, 0, 1, 0, 1, 0, 1, 2, 1, 1],
];

const MERID_NOV_DEC = [
  [2, 3, 0, 2, 1, -1, 2, 0, 1, 0, 2, -4, 3, 5, 4, 2, 1, 3, 4, 3, 1],
  [1, 2, 0, -1, -2, -3, -3, -4, -3, -2, -5, -10, -12, -6, -1, 2, 3, 3, 4, 3, 0],
  [0, 2, 1, -2, -6, -5, -2, -1, -2, -3, -6, -10, -16, -12, -6, 0, 2, 2, 3, 2, 1],
  [1, 0, 1, 2, 0, -1, 0, 1, -1, -2, -2, -4, -3, -2, 0, 1, 0, 1, -1, 0, 1],
  [0, 1, 0, 1, 0, 1, 0, 1, 0, 1, 0, 1, 0, 1, 0, -1, 1, 0, 0, -2, 0],
  [0, 1, 0, 0, 1, 0, 0, 1, 0, 0, 1, 0, 0, 1, 0, 0, 0, 1, 0, -1, 0],
  [0, 0, 1, 0, 0, 1, 0, 0, 1, -2, 0, 1, 0, 0, 1, 0, 0, 0, 1, 0, 0],
  [0, 0, 0, 1, 0, 0, 0, 0, 0, 1, 0, 0, 0, 0, 1, 0, 0, 0, 0, -3, 0],
  [0, 0, 0, 0, 1, 0, 0, 0, 0, 0, 0, 1, 0, 0, 0, 0, 0, 1, 0, 0, 0],
  [0, 1, 0, 1, 0, -1, 0, 1, 0, 1, 0, 1, 0, 1, 0, 1, 0, 1, 0, 1, 1],
  [1, -1, 0, 1, 2, 0, 1, 0, 1, 0, -1, 1, 0, 1, 0, 1, 2, 1, 0, 1, 0],
  [0, 1, -2, 0, 1, 0, 1, 0, 1, -1, 0, 1, 0, 1, 0, 2, 14, 1, 0, -2, 1],
  [1, 0, 2, -1, 0, 1, 0, 1, 0, -2, 1, 2, 0, 1, 0, 1, 4, 2, 1, 0, -1],
  [0, 2, 1, -2, 1, 0, 1, 0, 1, -3, 0, 2, 1, 0, 1, 0, 3, 1, 0, -2, 0],
  [1, 2, 0, -3, 2, 1, 0, 1, 0, -2, 1, 2, 0, 1, 0, 1, 2, 1, 0, 0, -2],
  [0, 2, 1, -2, 1, -1, 0, 1, 0, -1, 0, 2, 1, 0, 1, 0, -4, 2, 1, 0, -1],
  [1, 2, 0, -3, 2, 0, 1, 0, 1, -2, 1, 2, 0, 1, 0, 1, -6, 2, 1, 1, 0],
  [0, 3, 1, -2, 1, 0, 0, -2, 1, 1, 0, 2, 1, 0, 1, 0, -2, 2, 0, 0, -1],
  [1, 2, 0, -3, 0, 1, 2, -3, 0, 0, 1, 2, 0, 1, 0, 1, -4, 1, 2, 0, 0],
  [0, 3, -2, -4, 1, 0, 2, -2, 1, 1, 0, 3, 1, 0, 1, 0, -6, 2, 1, 0, -1],
  [1, 2, 0, -3, 2, 1, 1, -1, 0, 0, 1, 2, 0, 1, 0, 1, -8, 1, 2, 1, 0],
  [0, 3, 1, -2, 1, 0, 0, -2, 1, 1, 0, 2, 1, 0, 1, 0, -4, 2, 1, 0, -1],
  [1, 2, 0, -2, 2, 1, 1, -1, 0, 0, 1, 3, 0, 1, 0, 1, -3, 1, 2, 1, 0],
  [0, 2, 1, -1, 1, 0, 0, -1, 1, 0, 1, 2, 1, 0, 1, 0, -2, 1, 2, 0, -1],
];

const PANELS = [
  { days: DAYS, lines: ZONAL_JAN_FEB },
  { days: DAYS, lines: ZONAL_MAR_APR },
  { days: DAYS_ZONAL_MAY_JUN, lines: ZONAL_MAY_JUN },
  { days: DAYS, lines: ZONAL_JUL_AUG },
  { days: DAYS, lines: ZONAL_SEP_OCT },
  { days: DAYS, lines: ZONAL_NOV_DEC },
  { days: DAYS_MERID_JAN_FEB, lines: MERID_JAN_FEB },
  { days: DAYS, lines: MERID_MAR_APR },
  { days: DAYS_MERID_MAY_JUN, lines: MERID_MAY_JUN },
  { days: DAYS, lines: MERID_JUL_AUG },
  { days: DAYS, lines: MERID_SEP_OCT },
  { days: DAYS_MERID_NOV_DEC, lines: MERID_NOV_DEC },
];

// Layout (px)
const PANEL_LEFT = [90, 217.3, 344.3, 473.7, 602.7, 730];
const ROW_TOP = [59.5, 362.3];
const PANEL_W = 85;
const PANEL_H = 217.3;
const Y_MIN = -0.95;
const Y_MAX = 25.9;

const SANS = '"Liberation Sans", Arial, Helvetica, sans-serif';
const SERIF = '"Liberation Serif", "Times New Roman", serif';
const INK = '#111';

function text(x: number, y: number, str: string, font: string, align = 'center', extra: any = {}) {
  return {
    type: 'text',
    x,
    y,
    silent: true,
    ...extra,
    style: {
      text: str,
      font,
      fill: INK,
      align,
      textAlign: align,
      verticalAlign: 'middle',
      textVerticalAlign: 'middle',
    },
  };
}

function buildOption() {
  const grid: any[] = [];
  const xAxis: any[] = [];
  const yAxis: any[] = [];
  const series: any[] = [];

  const axisLine = { show: true, onZero: false, lineStyle: { color: INK, width: 1.5 } };
  const axisTick = { show: true, inside: false, length: 5, lineStyle: { color: '#444', width: 1 } };

  PANELS.forEach((p, idx) => {
    const row = idx < 6 ? 0 : 1;
    const col = idx % 6;
    grid.push({ left: PANEL_LEFT[col], top: ROW_TOP[row], width: PANEL_W, height: PANEL_H, containLabel: false });

    const xBase = {
      type: 'value',
      gridIndex: idx,
      min: 0,
      max: 60,
      interval: 20,
      axisLine,
      axisTick,
      splitLine: { show: false },
    };
    xAxis.push({
      ...xBase,
      position: 'bottom',
      axisLabel: { show: true, margin: 11, fontSize: 17, fontWeight: 'bold', color: INK, fontFamily: SANS },
    });
    xAxis.push({ ...xBase, position: 'top', axisLabel: { show: false } });

    const yBase = {
      type: 'value',
      gridIndex: idx,
      min: Y_MIN,
      max: Y_MAX,
      axisLine,
      axisTick: { ...axisTick, customValues: ALT_LEVELS },
      splitLine: { show: false },
    };
    yAxis.push({
      ...yBase,
      position: 'left',
      axisLabel: {
        show: col === 0,
        customValues: ALT_LEVELS,
        margin: 10,
        fontSize: 17,
        fontWeight: 'bold',
        color: INK,
        fontFamily: SANS,
        formatter: (v: number) => {
          const i = ALT_LEVELS.indexOf(Math.round(v));
          return i >= 0 ? ALT_LABELS[i] : '';
        },
      },
    });
    yAxis.push({ ...yBase, position: 'right', axisLabel: { show: false } });

    p.lines.forEach((vals, i) => {
      const level = LEVEL_COUNT - 1 - i;
      series.push({
        type: 'line',
        xAxisIndex: idx * 2,
        yAxisIndex: idx * 2,
        data: p.days.map((d, j) => [d, level + (vals[j] ?? 0) / 10]),
        symbol: 'none',
        silent: true,
        lineStyle: { color: '#1c1c1c', width: 1 },
      });
    });
  });

  const graphic: any[] = [];
  const boldFont = `bold 17px ${SANS}`;
  graphic.push(text(446, 14, 'Zonal', boldFont));
  graphic.push(text(446, 326, 'Meridional', boldFont));
  graphic.push(text(447, 631, 'Time (day)', boldFont));
  ROW_TOP.forEach((top) => {
    graphic.push(text(19.5, top + PANEL_H / 2, 'Altitude (km)', boldFont, 'center', { rotation: Math.PI / 2 }));
  });
  MONTHS.forEach((m, col) => {
    graphic.push(text(PANEL_LEFT[col] + PANEL_W / 2, 48, m, boldFont));
  });
  LETTERS.forEach((l, idx) => {
    const row = idx < 6 ? 0 : 1;
    const col = idx % 6;
    graphic.push(text(PANEL_LEFT[col] + PANEL_W + 1, ROW_TOP[row], l, `23px ${SERIF}`, 'left'));
  });

  return {
    animation: false,
    backgroundColor: '#ffffff',
    grid,
    xAxis,
    yAxis,
    series,
    graphic: { elements: graphic },
  };
}

export default function App() {
  const ref = useRef<HTMLDivElement>(null);
  useEffect(() => {
    if (!ref.current) return;
    const chart = echarts.init(ref.current, undefined, { renderer: 'svg' });
    chart.setOption(buildOption() as any);
    return () => chart.dispose();
  }, []);
  return (
    <div
      ref={ref}
      style={{ position: 'fixed', left: 0, top: 0, width: 840, height: 649, background: '#fff' }}
    />
  );
}
